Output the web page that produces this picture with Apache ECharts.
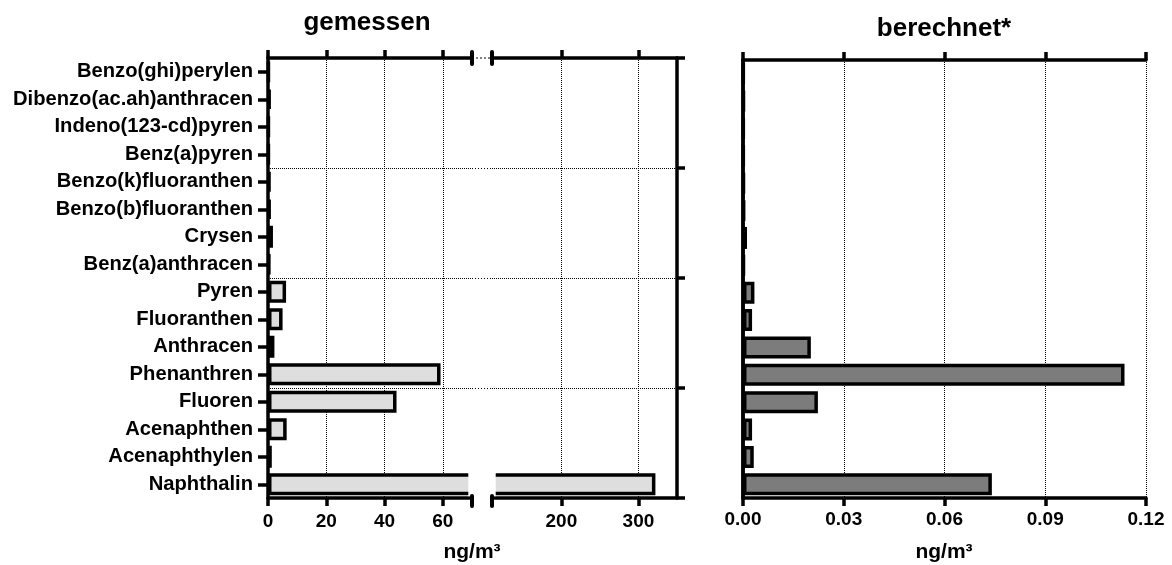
<!DOCTYPE html>
<html><head><meta charset="utf-8">
<script src="https://cdn.jsdelivr.net/npm/echarts@6/dist/echarts.min.js"></script>
<style>html,body{margin:0;padding:0;background:#fff}#c{width:1172px;height:565px}</style>
</head><body><div id="c"></div>
<script>
const categories = ['Benzo(ghi)perylen','Dibenzo(ac.ah)anthracen','Indeno(123-cd)pyren','Benz(a)pyren','Benzo(k)fluoranthen','Benzo(b)fluoranthen','Crysen','Benz(a)anthracen','Pyren','Fluoranthen','Anthracen','Phenanthren','Fluoren','Acenaphthen','Acenaphthylen','Naphthalin'];
const measured   = [0.3, 0.8, 0.3, 0.3, 0.7, 0.8, 1.7, 0.6, 6.2, 5.0, 2.2, 59.2, 44.1, 6.4, 1.3, 322];
const calculated = [0.0002, 0.0003, 0.0002, 0.0002, 0.0003, 0.0004, 0.0012, 0.0003, 0.0034, 0.0027, 0.0202, 0.1136, 0.0223, 0.0027, 0.0032, 0.0741];
const ticksLow  = [0, 20, 40, 60];
const ticksHigh = [200, 300];
const breakStart = 70, breakEnd = 110, leftMax = 350;
const rightMax = 0.12, rightStep = 0.03;
const rowGroup = 4;
const titles = ['gemessen', 'berechnet*'];
const unit = 'ng/m³';

const FF = '"Liberation Sans", Arial, sans-serif';
const BLACK = '#000';
const lineW = 3.5;
const dotted = { show: true, lineStyle: { type: 'dotted', color: BLACK, width: 1 } };
const noSplit = { show: false };
const lbl = (m) => ({ fontFamily: FF, fontWeight: 'bold', fontSize: 19, color: BLACK, margin: m });

const chart = echarts.init(document.getElementById('c'), null, { renderer: 'canvas' });
const gridA = { left: 268, top: 58, width: 204, height: 440 };
const gridB = { left: 492, top: 58, width: 185, height: 440 };
const gridC = { left: 743, top: 60, width: 403, height: 438 };
const BAR_W = 22;
const BORDER = 3.5;

const tick = (vals) => Object.assign({ show: true, inside: false, length: 8, lineStyle: { color: BLACK, width: lineW } }, vals ? { customValues: vals } : {});
const xAx = (extra) => Object.assign({
  type: 'value',
  axisLine: { show: true, onZero: false, lineStyle: { color: BLACK, width: lineW } },
  axisTick: tick()
}, extra);

const barStyle = (fill) => ({ color: fill, borderColor: BLACK, borderWidth: BORDER });
const titleStyle = (size) => ({ fontFamily: FF, fontWeight: 'bold', fontSize: size, color: BLACK });

chart.setOption({
  animation: false,
  backgroundColor: '#fff',
  title: [
    { text: titles[0], left: 367, top: 10, textAlign: 'center', padding: 0, textStyle: titleStyle(26) },
    { text: titles[1], left: 944, top: 16, textAlign: 'center', padding: 0, textStyle: titleStyle(26) },
    { text: unit, left: 472, top: 542, textAlign: 'center', padding: 0, textStyle: titleStyle(21) },
    { text: unit, left: 944, top: 542, textAlign: 'center', padding: 0, textStyle: titleStyle(21) }
  ],
  grid: [gridA, gridB, gridC],
  xAxis: [
    xAx({ gridIndex: 0, position: 'bottom', min: 0, max: breakStart, axisTick: tick(ticksLow),
      axisLabel: Object.assign({ customValues: ticksLow }, lbl(14)), splitLine: dotted }),
    xAx({ gridIndex: 0, position: 'top', min: 0, max: breakStart, axisTick: tick(ticksLow),
      axisLabel: { show: false }, splitLine: noSplit }),
    xAx({ gridIndex: 1, position: 'bottom', min: breakEnd, max: leftMax, axisTick: tick(ticksHigh),
      axisLabel: Object.assign({ customValues: ticksHigh }, lbl(14)), splitLine: dotted }),
    xAx({ gridIndex: 1, position: 'top', min: breakEnd, max: leftMax, axisTick: tick(ticksHigh),
      axisLabel: { show: false }, splitLine: noSplit }),
    xAx({ gridIndex: 2, position: 'bottom', min: 0, max: rightMax, interval: rightStep,
      axisLabel: Object.assign({ formatter: v => v.toFixed(2) }, lbl(12)), splitLine: dotted }),
    xAx({ gridIndex: 2, position: 'top', min: 0, max: rightMax, interval: rightStep,
      axisLabel: { show: false }, splitLine: noSplit })
  ],
  yAxis: [
    { gridIndex: 0, type: 'category', data: categories, inverse: true, position: 'left',
      axisLine: { show: true, lineStyle: { color: BLACK, width: lineW } },
      axisTick: { show: true, length: 10, alignWithLabel: true, lineStyle: { color: BLACK, width: lineW } },
      axisLabel: { fontFamily: FF, fontWeight: 'bold', fontSize: 20.2, color: BLACK, margin: 15 },
      splitLine: noSplit },
    { gridIndex: 0, type: 'value', position: 'right', min: 0, max: categories.length, interval: rowGroup,
      axisLine: { show: false }, axisTick: { show: false }, axisLabel: { show: false }, splitLine: dotted },
    { gridIndex: 1, type: 'value', position: 'right', min: 0, max: categories.length, interval: rowGroup,
      axisLine: { show: true, lineStyle: { color: BLACK, width: lineW } },
      axisTick: tick(), axisLabel: { show: false }, splitLine: dotted },
    { gridIndex: 1, type: 'category', data: categories, inverse: true, show: false },
    { gridIndex: 2, type: 'category', data: categories, inverse: true, position: 'left',
      axisLine: { show: true, lineStyle: { color: BLACK, width: lineW } },
      axisTick: { show: false }, axisLabel: { show: false }, splitLine: noSplit },
    { gridIndex: 2, type: 'value', position: 'right', min: 0, max: 1,
      axisLine: { show: true, lineStyle: { color: BLACK, width: lineW } },
      axisTick: { show: false }, axisLabel: { show: false }, splitLine: noSplit }
  ],
  series: [
    { type: 'bar', xAxisIndex: 0, yAxisIndex: 0, data: measured, barWidth: BAR_W, clip: true, itemStyle: barStyle('#dedede') },
    { type: 'bar', xAxisIndex: 2, yAxisIndex: 3, data: measured, barWidth: BAR_W, clip: true, itemStyle: barStyle('#dedede') },
    { type: 'bar', xAxisIndex: 4, yAxisIndex: 4, data: calculated, barWidth: BAR_W, clip: true, itemStyle: barStyle('#7c7c7c') }
  ]
});

// axis-break decorations, positioned through the library's own scales
const xa = chart.convertToPixel({ xAxisIndex: 0 }, breakStart);
const xb = chart.convertToPixel({ xAxisIndex: 2 }, breakEnd);
const yTop = chart.convertToPixel({ yAxisIndex: 1 }, categories.length);
const yBot = chart.convertToPixel({ yAxisIndex: 1 }, 0);
const half = BAR_W / 2 + 1;
const g = [];
measured.forEach((v, i) => {
  if (v > breakStart) {
    const yc = chart.convertToPixel({ yAxisIndex: 0 }, categories[i]);
    g.push({ type: 'rect', z: 100, shape: { x: xa - BORDER - 0.2, y: yc - half, width: xb - xa + 2 * BORDER + 0.4, height: half * 2 }, style: { fill: '#fff' } });
  }
});
for (let k = rowGroup; k < categories.length; k += rowGroup) {
  const y = Math.round(chart.convertToPixel({ yAxisIndex: 1 }, k)) + 0.5;
  g.push({ type: 'line', z: 101, shape: { x1: xa, y1: y, x2: xb, y2: y }, style: { stroke: BLACK, lineWidth: 1, lineDash: [1, 2] } });
}
g.push({ type: 'line', z: 101, shape: { x1: xa, y1: yTop, x2: xb, y2: yTop }, style: { stroke: BLACK, lineWidth: 1, lineDash: [2, 2] } });
[xa, xb].forEach(x => {
  g.push({ type: 'line', z: 102, shape: { x1: x, y1: yTop - 6, x2: x, y2: yTop + 6 }, style: { stroke: BLACK, lineWidth: 4, lineCap: 'round' } });
  g.push({ type: 'line', z: 102, shape: { x1: x, y1: yBot - 2, x2: x, y2: yBot + 8 }, style: { stroke: BLACK, lineWidth: 4, lineCap: 'round' } });
});
chart.setOption({ graphic: g });
</script>
</body></html>
